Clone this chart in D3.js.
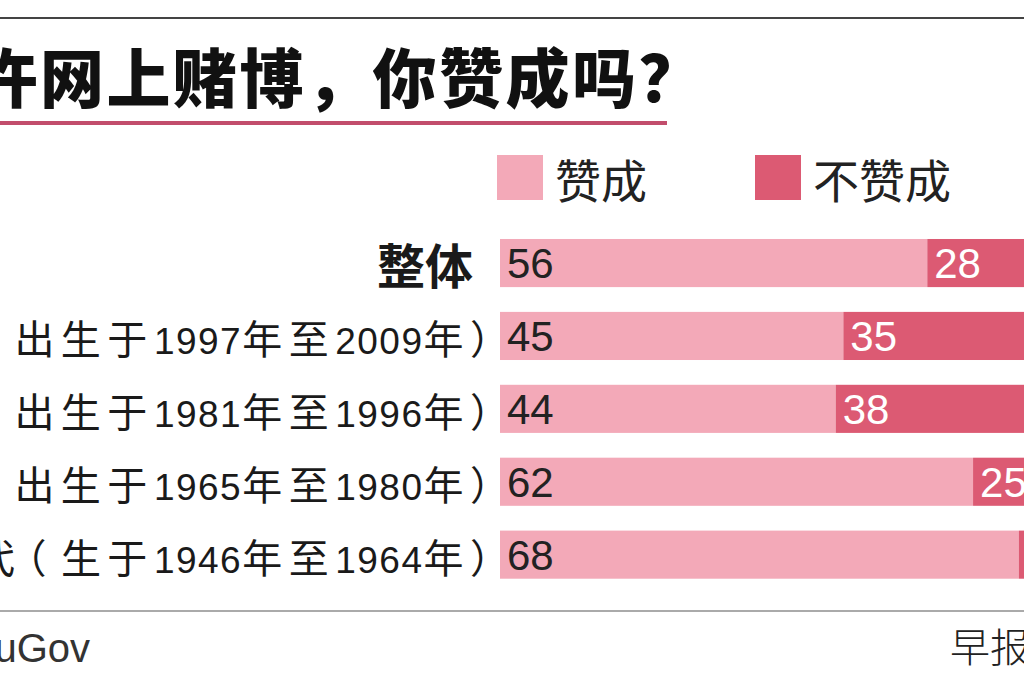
<!DOCTYPE html>
<html>
<head>
<meta charset="utf-8">
<script src="https://cdn.jsdelivr.net/npm/d3@7"></script>
<style>
  body { margin: 0; background: #fff; overflow: hidden; }
  svg { display: block; }
</style>
</head>
<body>
<svg></svg>
<script>
// share of respondents, percent
const groups = [
  "整体",
  "Z世代（出生于1997年至2009年）",
  "千禧世代（出生于1981年至1996年）",
  "X世代（出生于1965年至1980年）",
  "婴儿潮世代（生于1946年至1964年）"
];
const approve = [56, 45, 44, 62, 68];
const disapprove = [28, 35, 38, 25, 21];
const seriesNames = ["赞成", "不赞成"];

const width = 1024;
const height = 682;
const light = "#f3a9b8";
const dark = "#dc5a73";

const svg = d3.select("svg")
    .attr("width", width)
    .attr("height", height);

// Scales
const x = d3.scaleLinear()
    .domain([0, 100])
    .range([500, 1263]);

const y = d3.scaleBand()
    .domain(groups)
    .range([226.6, 591.1])
    .paddingInner(0.34)
    .paddingOuter(0.17);

// top rule, title, underline
svg.append("line")
    .attr("x1", 0).attr("x2", width)
    .attr("y1", 18).attr("y2", 18)
    .attr("stroke", "#444").attr("stroke-width", 2);

svg.append("text")
    .text("允许网上赌博，你赞成吗？")
    .attr("x", -93)
    .attr("y", 102)
    .attr("font-family", "Noto Sans CJK SC")
    .attr("font-weight", 900)
    .attr("font-size", 64)
    .attr("letter-spacing", 2.5)
    .attr("fill", "#111");

svg.append("line")
    .attr("x1", 0).attr("x2", 667)
    .attr("y1", 123).attr("y2", 123)
    .attr("stroke", "#c24d6c").attr("stroke-width", 4);

// legend
const legend = svg.append("g")
    .selectAll("g")
    .data(seriesNames)
    .join("g")
    .attr("transform", (d, i) => `translate(${[497, 755][i]}, 155)`);

legend.append("rect")
    .attr("width", 46).attr("height", 45)
    .attr("fill", (d, i) => i ? dark : light);

legend.append("text")
    .text(d => d)
    .attr("x", 58)
    .attr("y", 43)
    .attr("font-family", "Noto Sans CJK SC")
    .attr("font-size", 46)
    .attr("fill", "#222");

// bars
const rows = svg.append("g")
    .selectAll("g")
    .data(groups.map((g, i) => ({ group: g, yes: approve[i], no: disapprove[i] })))
    .join("g")
    .attr("transform", d => `translate(0, ${y(d.group)})`);

rows.append("rect")
    .attr("x", x(0))
    .attr("width", d => x(d.yes) - x(0))
    .attr("height", y.bandwidth())
    .attr("fill", light);

rows.append("rect")
    .attr("x", d => x(d.yes))
    .attr("width", d => x(d.yes + d.no) - x(d.yes))
    .attr("height", y.bandwidth())
    .attr("fill", dark);

rows.append("text")
    .text(d => d.yes)
    .attr("x", x(0) + 7)
    .attr("y", y.bandwidth() / 2 + 15)
    .attr("font-family", "Liberation Sans")
    .attr("font-size", 42)
    .attr("fill", "#222");

rows.append("text")
    .text(d => d.no)
    .attr("x", d => x(d.yes) + 7)
    .attr("y", y.bandwidth() / 2 + 15)
    .attr("font-family", "Liberation Sans")
    .attr("font-size", 42)
    .attr("fill", "#fff");

// row labels: digits a bit tighter than the CJK characters
const labels = rows.append("text")
    .attr("text-anchor", "end")
    .attr("fill", "#1a1a1a")
    .attr("font-family", "Liberation Sans, Noto Sans CJK SC");

labels.filter((d, i) => i === 0)
    .attr("x", 473)
    .attr("y", y.bandwidth() / 2 + 21)
    .attr("font-family", "Noto Sans CJK SC")
    .attr("font-weight", 700)
    .attr("font-size", 48)
    .text(d => d.group);

const spacing = s => s === "）" ? -22 : s === "（" ? 14.5 : /\d/.test(s) ? 1.5 : 6.5;

labels.filter((d, i) => i > 0)
    .attr("x", 488)
    .attr("y", y.bandwidth() / 2 + 18)
    .selectAll("tspan")
    .data(d => d.group.split(/(\d+|（|）$)/).filter(s => s))
    .join("tspan")
    .text(s => s)
    .attr("dx", s => s === "（" ? -15 : null)
    .attr("font-size", s => /\d/.test(s) ? 37 : 40)
    .attr("letter-spacing", spacing);

// bottom rule and footer
svg.append("line")
    .attr("x1", 0).attr("x2", width)
    .attr("y1", 611).attr("y2", 611)
    .attr("stroke", "#aaa").attr("stroke-width", 2);

svg.append("text")
    .text("来源：YouGov")
    .attr("x", 90)
    .attr("y", 662)
    .attr("text-anchor", "end")
    .attr("font-family", "Liberation Sans Narrow, Liberation Sans, Noto Sans CJK SC")
    .attr("font-size", 40)
    .attr("fill", "#333");

svg.append("text")
    .text("早报图表")
    .attr("x", 950)
    .attr("y", 662)
    .attr("font-family", "Noto Sans CJK SC")
    .attr("font-weight", 300)
    .attr("font-size", 40)
    .attr("fill", "#222");
</script>
</body>
</html>
